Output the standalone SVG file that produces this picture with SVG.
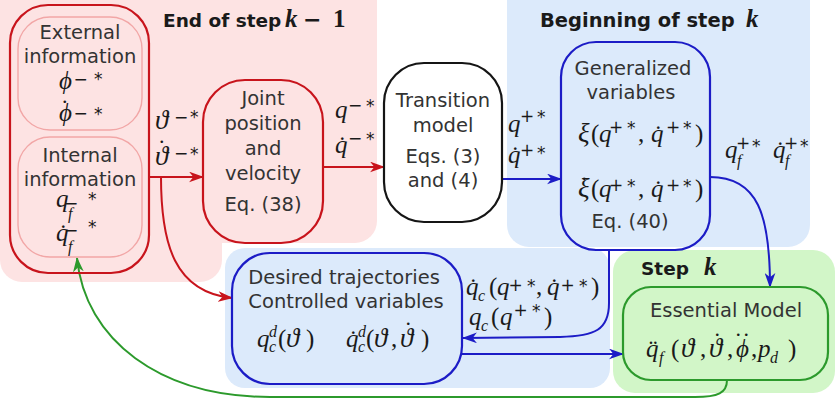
<svg xmlns="http://www.w3.org/2000/svg" width="837" height="402" viewBox="0 0 837 402">
<defs>
<style>
.bg-pink{fill:#fde3e3}
.bg-blue{fill:#dceafb}
.bg-green{fill:#d2f6c8}
.node{fill:none;stroke-width:2.2}
.red{stroke:#c8141c}
.pinkline{stroke:#f2a6a6;stroke-width:1.4;fill:none}
.blue{stroke:#1c1cc6}
.black{stroke:#151515}
.green{stroke:#2c9a2c}
.t{font-family:"DejaVu Sans",sans-serif;font-size:19.5px;fill:#333;text-anchor:middle}
.title{font-family:"DejaVu Sans",sans-serif;font-weight:bold;font-size:18.5px;fill:#1a1a1a}
.title2{font-family:"DejaVu Sans",sans-serif;font-weight:bold;font-size:19.5px;fill:#1a1a1a}
.tk{font-family:"Liberation Serif","DejaVu Serif",serif;font-weight:bold;font-size:25px}
.tm{font-family:"DejaVu Sans",sans-serif;font-weight:bold;font-size:22px}
.m{font-family:"Liberation Serif","DejaVu Serif",serif;font-style:italic;font-size:25px;fill:#1a1a1a}
.g{font-size:27px}
.u{font-style:normal}
.sb{font-size:16px}
.sp{font-family:"DejaVu Sans",sans-serif;font-style:normal;font-size:17px}
.dt{font-style:normal;font-size:22px}
.conn{fill:none;stroke-width:2}
</style>
<marker id="ar" viewBox="0 0 14 10" refX="13" refY="5" markerWidth="15" markerHeight="11" markerUnits="userSpaceOnUse" orient="auto"><path d="M0,0 L14,5 L0,10 L4,5 Z" fill="#c8141c"/></marker>
<marker id="ab" viewBox="0 0 14 10" refX="13" refY="5" markerWidth="15" markerHeight="11" markerUnits="userSpaceOnUse" orient="auto"><path d="M0,0 L14,5 L0,10 L4,5 Z" fill="#1c1cc6"/></marker>
<marker id="ag" viewBox="0 0 14 10" refX="13" refY="5" markerWidth="15" markerHeight="11" markerUnits="userSpaceOnUse" orient="auto"><path d="M0,0 L14,5 L0,10 L4,5 Z" fill="#2c9a2c"/></marker>
</defs>

<g id="regions">
<rect class="bg-pink" x="0" y="-20" width="377" height="263" rx="22"/>
<rect class="bg-pink" x="0" y="-20" width="222" height="302" rx="22"/>
<rect class="bg-blue" x="507" y="-20" width="303" height="267" rx="22"/>
<rect class="bg-blue" x="225" y="248" width="385" height="140" rx="20"/>
<rect class="bg-green" x="613" y="250" width="222" height="143" rx="22"/>
<text class="title" x="163" y="27">End of step<tspan class="tk" font-style="italic" x="285">k</tspan><tspan class="tm" x="303">−</tspan><tspan class="tk" x="333">1</tspan></text>
<text class="title2" x="540" y="27">Beginning of step<tspan class="tk" font-style="italic" x="746">k</tspan></text>
<text class="title" x="641" y="275">Step<tspan class="tk" font-style="italic" x="704">k</tspan></text>
</g>

<g id="connectors">
<path class="conn red" d="M149,177 L203,177" marker-end="url(#ar)"/>
<path class="conn red" d="M161,177 C161,245 175,292 232,298" marker-end="url(#ar)"/>
<path class="conn red" d="M323,167 L384,167" marker-end="url(#ar)"/>
<path class="conn blue" d="M502,179 L561,179" marker-end="url(#ab)"/>
<path class="conn blue" d="M710,177 C758,177 770,215 770,287" marker-end="url(#ab)"/>
<path class="conn blue" d="M609,250 L609,303 C609,330 595,336 560,337 L463,338" marker-end="url(#ab)"/>
<path class="conn blue" d="M462,354 L623,354" marker-end="url(#ab)"/>
<path class="conn green" d="M727,380 C727,393 718,397 695,397 L270,397 C160,397 85,340 77,258" marker-end="url(#ag)"/>
</g>

<g id="labels">
<text class="m" x="155" y="129"><tspan class="g">ϑ</tspan><tspan class="sp" x="174" y="122.5">−</tspan><tspan class="sp" x="190" y="123">*</tspan></text>
<text class="m" x="155" y="165"><tspan class="g">ϑ</tspan><tspan class="dt" x="159" y="143">.</tspan><tspan class="sp" x="174" y="158.5">−</tspan><tspan class="sp" x="190" y="160">*</tspan></text>
<text class="m" x="335" y="118">q<tspan class="sp" x="348" y="110.5">−</tspan><tspan class="sp" x="366" y="112">*</tspan></text>
<text class="m" x="335" y="153">q&#x0307;<tspan class="sp" x="348" y="143.5">−</tspan><tspan class="sp" x="366" y="145">*</tspan></text>
<text class="m" x="508" y="132">q<tspan class="sp" x="520" y="122">+</tspan><tspan class="sp" x="537" y="123">*</tspan></text>
<text class="m" x="508" y="163">q&#x0307;<tspan class="sp" x="520" y="155.5">+</tspan><tspan class="sp" x="537" y="159">*</tspan></text>
<text class="m" x="725" y="158">q<tspan class="sb" x="737" y="166">f</tspan><tspan class="sp" x="736" y="148.5">+</tspan><tspan class="sp" x="752" y="152">*</tspan><tspan x="773" y="158">q&#x0307;</tspan><tspan class="sb" x="785" y="166">f</tspan><tspan class="sp" x="784" y="148.5">+</tspan><tspan class="sp" x="800" y="152">*</tspan></text>
<text class="m" x="466" y="295">q&#x0307;<tspan class="sb" x="478" y="301">c</tspan><tspan class="u" x="489" y="295">(</tspan><tspan x="497">q</tspan><tspan class="sp" x="508.5" y="290.5">+</tspan><tspan class="sp" x="527" y="292">*</tspan><tspan class="u" x="536" y="295">,</tspan><tspan x="547">q&#x0307;</tspan><tspan class="sp" x="560.5" y="290.5">+</tspan><tspan class="sp" x="579" y="292">*</tspan><tspan class="u" x="591" y="295">)</tspan></text>
<text class="m" x="469" y="325">q<tspan class="sb" x="481" y="331">c</tspan><tspan class="u" x="491" y="325">(</tspan><tspan x="500">q</tspan><tspan class="sp" x="513.5" y="315.5">+</tspan><tspan class="sp" x="532" y="317">*</tspan><tspan class="u" x="544" y="325">)</tspan></text>
</g>

<g id="n-outer">
<rect class="node red" x="10" y="5" width="139" height="268" rx="38"/>
</g>
<g id="n-external">
<rect class="pinkline" x="18" y="17" width="124" height="113" rx="32"/>
<text class="t" x="80" y="39">External</text>
<text class="t" x="80" y="63">information</text>
<text class="m" x="59" y="89">ϕ<tspan class="sp" x="73.5" y="85">−</tspan><tspan class="sp" x="94" y="85">*</tspan></text>
<text class="m" x="59" y="121">ϕ<tspan class="dt" x="62" y="103">.</tspan><tspan class="sp" x="73.5" y="118.5">−</tspan><tspan class="sp" x="94" y="120">*</tspan></text>
</g>
<g id="n-internal">
<rect class="pinkline" x="18" y="137" width="124" height="120" rx="32"/>
<text class="t" x="80" y="162">Internal</text>
<text class="t" x="80" y="186">information</text>
<text class="m" x="56" y="207">q<tspan class="sb" x="68" y="219">f</tspan><tspan class="sp" x="64" y="208.5">−</tspan><tspan class="sp" x="88" y="205">*</tspan></text>
<text class="m" x="56" y="241">q&#x0307;<tspan class="sb" x="68" y="252">f</tspan><tspan class="sp" x="64" y="235.5">−</tspan><tspan class="sp" x="88" y="233">*</tspan></text>
</g>
<g id="n-joint">
<rect class="node red" x="203" y="80" width="120" height="163" rx="42"/>
<text class="t" x="263" y="105">Joint</text>
<text class="t" x="263" y="130">position</text>
<text class="t" x="263" y="155">and</text>
<text class="t" x="263" y="180">velocity</text>
<text class="t" x="263" y="211">Eq. (38)</text>
</g>
<g id="n-transition">
<rect class="node black" x="384" y="63" width="118" height="159" rx="40"/>
<text class="t" x="443" y="107">Transition</text>
<text class="t" x="443" y="132">model</text>
<text class="t" x="443" y="163">Eqs. (3)</text>
<text class="t" x="443" y="187">and (4)</text>
</g>
<g id="n-generalized">
<rect class="node blue" x="561" y="42" width="149" height="208" rx="35"/>
<text class="t" x="633" y="75">Generalized</text>
<text class="t" x="631" y="99">variables</text>
<text class="m" x="578" y="142"><tspan class="g">ξ</tspan><tspan class="u" x="591">(</tspan><tspan x="599">q</tspan><tspan class="sp" x="609" y="132.5">+</tspan><tspan class="sp" x="627" y="134">*</tspan><tspan class="u" x="638" y="142">,</tspan><tspan x="651">q&#x0307;</tspan><tspan class="sp" x="666" y="132.5">+</tspan><tspan class="sp" x="683" y="134">*</tspan><tspan class="u" x="695" y="142">)</tspan></text>
<text class="m" x="578" y="197"><tspan class="g">ξ</tspan><tspan class="dt" x="581.5" y="180">.</tspan><tspan class="u" x="591" y="197">(</tspan><tspan x="599">q</tspan><tspan class="sp" x="609" y="190.5">+</tspan><tspan class="sp" x="627" y="192">*</tspan><tspan class="u" x="638" y="197">,</tspan><tspan x="651">q&#x0307;</tspan><tspan class="sp" x="666" y="190.5">+</tspan><tspan class="sp" x="683" y="192">*</tspan><tspan class="u" x="695" y="197">)</tspan></text>
<text class="t" x="630" y="228">Eq. (40)</text>
</g>
<g id="n-desired">
<rect class="node blue" x="232" y="253" width="230" height="131" rx="38"/>
<text class="t" x="344" y="284">Desired trajectories</text>
<text class="t" x="346" y="308">Controlled variables</text>
<text class="m" x="257" y="347">q<tspan class="sb" x="269" y="337">d</tspan><tspan class="sb" x="269" y="352">c</tspan><tspan class="u" x="278" y="347">(</tspan><tspan class="g" x="286">ϑ</tspan><tspan class="u" x="306">)</tspan><tspan x="346">q&#x0307;</tspan><tspan class="sb" x="358" y="337">d</tspan><tspan class="sb" x="358" y="352">c</tspan><tspan class="u" x="366" y="347">(</tspan><tspan class="g" x="374">ϑ</tspan><tspan class="u" x="391">,</tspan><tspan class="g" x="400">ϑ</tspan><tspan class="dt" x="405.5" y="325">.</tspan><tspan class="u" x="421" y="347">)</tspan></text>
</g>
<g id="n-essential">
<rect class="node green" x="623" y="287" width="205" height="93" rx="28"/>
<text class="t" x="726" y="317">Essential Model</text>
<text class="m" x="646" y="357">q&#x0308;<tspan class="sb" x="659" y="363">f</tspan><tspan class="u" x="671" y="357">(</tspan><tspan class="g" x="681">ϑ</tspan><tspan class="u" x="700">,</tspan><tspan class="g" x="709">ϑ</tspan><tspan class="dt" x="714.5" y="336">.</tspan><tspan class="u" x="727" y="357">,</tspan><tspan x="736">ϕ</tspan><tspan class="dt" x="735.5" y="336">.</tspan><tspan class="dt" x="743.5" y="336">.</tspan><tspan class="u" x="751" y="357">,</tspan><tspan x="758">p</tspan><tspan class="sb" x="770" y="363">d</tspan><tspan class="u" x="788" y="357">)</tspan></text>
</g>
</svg>
